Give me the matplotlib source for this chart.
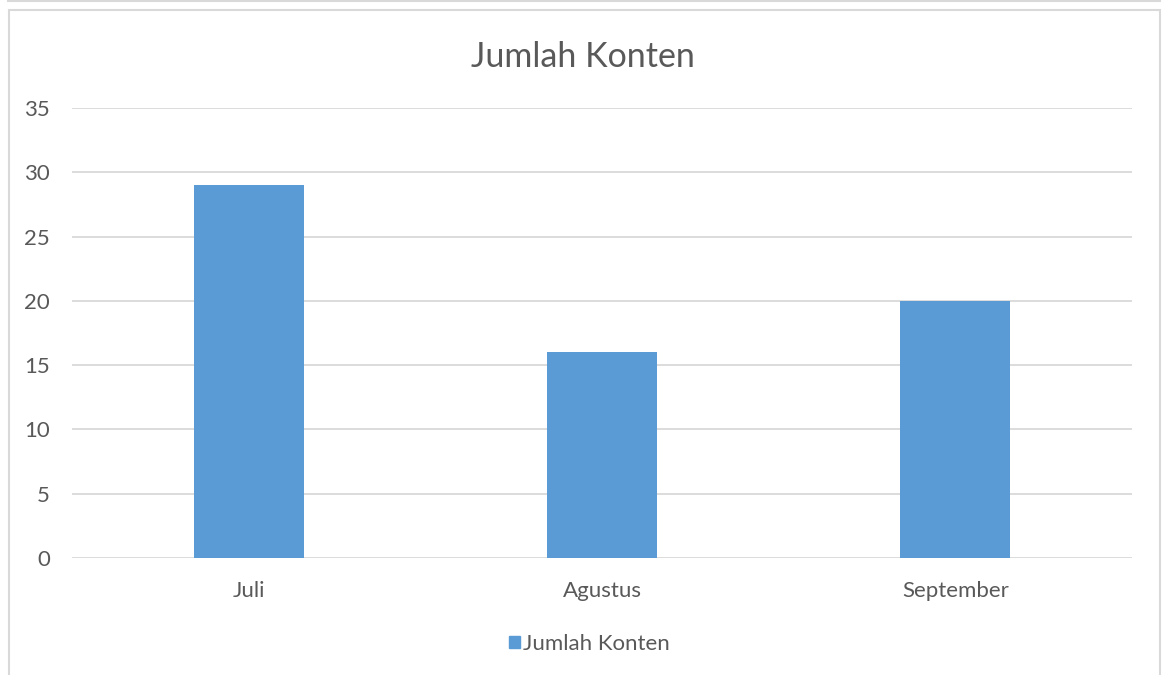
import matplotlib.pyplot as plt
from matplotlib.patches import Rectangle
from matplotlib.lines import Line2D

bulan = ['Juli', 'Agustus', 'September']
jumlah_konten = [29, 16, 20]
y_ticks = [0, 5, 10, 15, 20, 25, 30, 35]

biru = '#5b9bd5'
abu = '#595959'
garis = '#d9d9d9'

plt.rcParams['font.family'] = ['Lato', 'DejaVu Sans']

W, H = 1162, 675
fig = plt.figure(figsize=(W / 100, H / 100), dpi=100)

# bingkai chart (sisi bawah terpotong)
fig.add_artist(Rectangle((8.5 / W, -0.05), (1160 - 8.5) / W, 1.05 - 9.5 / H,
                         transform=fig.transFigure, fill=False,
                         edgecolor=garis, linewidth=1.5))
fig.add_artist(Line2D([8 / W, 1160 / W], [1 - 0.5 / H, 1 - 0.5 / H],
                      transform=fig.transFigure, color=garis, linewidth=1.5))

ax = fig.add_axes([72 / W, 1 - 558 / H, (1132 - 72) / W, (558 - 108) / H])
x = range(len(bulan))
ax.bar(x, jumlah_konten, width=0.312, color=biru, zorder=3)

ax.set_xlim(-0.5, 2.5)
ax.set_ylim(0, 35)
ax.set_yticks(y_ticks)
ax.set_xticks(list(x))
ax.set_xticklabels(bulan)
ax.yaxis.grid(True, color=garis, linewidth=1.3, zorder=0)
for s in ax.spines.values():
    s.set_visible(False)
ax.tick_params(length=0, labelsize=16, labelcolor=abu)
ax.tick_params(axis='y', pad=16)
ax.tick_params(axis='x', pad=16.5)

fig.text(583 / W, 1 - 57 / H, 'Jumlah Konten', ha='center', va='center',
         fontsize=24.5, color=abu)

# legenda
fig.add_artist(Rectangle((509 / W, 1 - 648 / H), 11 / W, 12 / H,
                         transform=fig.transFigure, color=biru))
fig.text(523 / W, 1 - 644 / H, 'Jumlah Konten', ha='left', va='center',
         fontsize=16, color=abu)

fig.savefig('out.png', dpi=100)
